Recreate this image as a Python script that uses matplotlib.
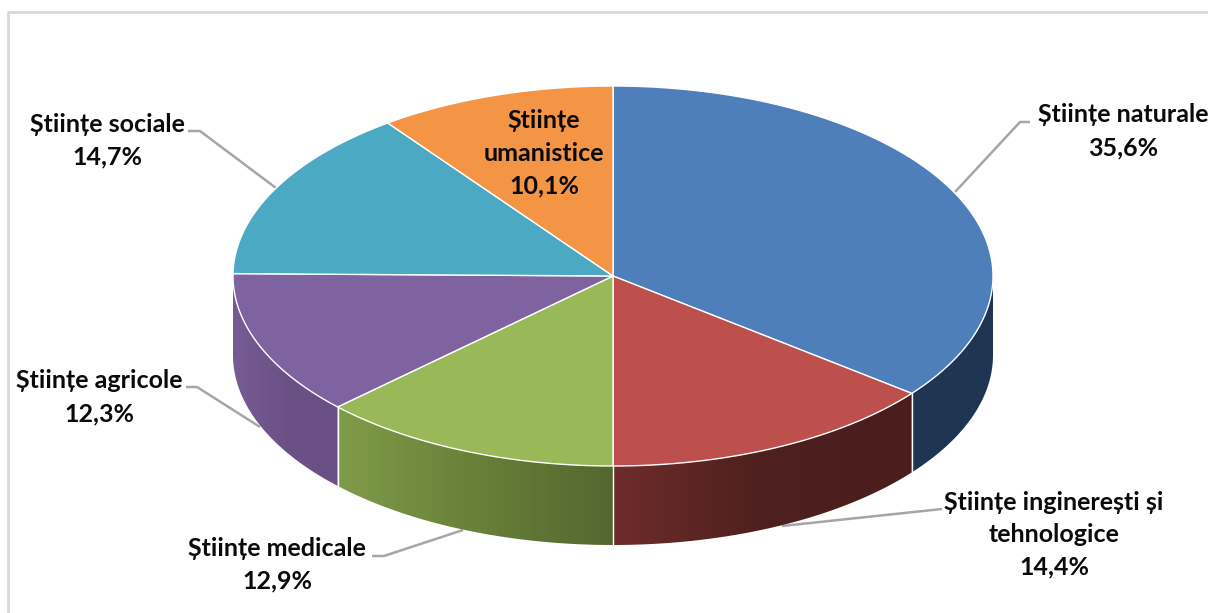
import numpy as np
import matplotlib
matplotlib.use("Agg")
import matplotlib.pyplot as plt
from matplotlib.colors import LinearSegmentedColormap
from matplotlib.patches import Polygon

categories = ["Științe naturale", "Științe inginerești și\ntehnologice", "Științe medicale",
              "Științe agricole", "Științe sociale", "Științe\numanistice"]
shares = [35.6, 14.4, 12.9, 12.3, 14.7, 10.1]
top_colors = ["#4e7fbb", "#bd4f4d", "#99b958", "#7f62a0", "#4ba9c4", "#f49545"]
# colour stops across the visible rim of each slice, left to right
rim_colors = [("#1f3552", "#1f3552"), ("#6e2c2b", "#4e201f", "#4a1e1d"), ("#7f9c4a", "#688038", "#556630"),
              ("#775c94", "#6c5187", "#6a4f84"), None, None]

label_x = [1123, 1054, 277, 99, 107, 544]
label_y = [115, 502, 548, 381, 124, 121]
leaders = [[(1030, 122), (1020, 122), (955, 192)],
           [(942, 509), (782, 526)],
           [(372, 556), (384, 556), (463, 530)],
           [(186, 387), (197, 387), (260, 427)],
           [(188, 131), (200, 131), (276, 188)]]

cx, cy = 613, 276
rx, ry = 380, 190
depth = 79
line_step = 32.5


def rim(a0, a1, n=80):
    # points on the top ellipse, angles clockwise from twelve o'clock
    t = np.deg2rad(np.linspace(a0, a1, n))
    return np.column_stack([cx + rx * np.sin(t), cy - ry * np.cos(t)])


fig = plt.figure(figsize=(12.08, 6.13), dpi=100)
ax = fig.add_axes([0, 0, 1, 1])
ax.axis("off")

edges = np.concatenate([[0], np.cumsum(shares) * 3.6])

# side walls, only the part facing the viewer (90 to 270 degrees)
for i, colors in enumerate(rim_colors):
    if colors is None:
        continue
    a0 = max(edges[i], 90)
    a1 = min(edges[i + 1], 270)
    upper = rim(a0, a1)
    lower = upper[::-1] + [0, depth]
    wall = np.vstack([upper, lower])
    cmap = LinearSegmentedColormap.from_list("wall", colors)
    x0, x1 = wall[:, 0].min(), wall[:, 0].max()
    img = ax.imshow(np.linspace(0, 1, 256).reshape(1, -1), cmap=cmap, aspect="auto",
                    extent=[x0, x1, wall[:, 1].max(), wall[:, 1].min()], zorder=2)
    img.set_clip_path(Polygon(wall, transform=ax.transData))

# white seams between the walls
for a in edges[1:4]:
    p = rim(a, a, 1)[0]
    ax.plot([p[0], p[0]], [p[1], p[1] + depth], color="white", lw=1.0, zorder=3)

# top face
for i, c in enumerate(top_colors):
    pts = np.vstack([[cx, cy], rim(edges[i], edges[i + 1])])
    ax.add_patch(Polygon(pts, closed=True, facecolor=c, edgecolor="white", lw=1.0,
                         joinstyle="round", zorder=4))

for pts in leaders:
    xs, ys = zip(*pts)
    ax.plot(xs, ys, color="#a6a6a6", lw=1.8, zorder=1, solid_capstyle="butt")

# chart frame: top and left edges only
ax.plot([8, 8, 1208], [613, 12, 12], color="#d9d9d9", lw=2, zorder=1)

for name, value, x, y in zip(categories, shares, label_x, label_y):
    lines = name.split("\n") + [f"{value:.1f}%".replace(".", ",")]
    for k, line in enumerate(lines):
        ax.text(x, y + k * line_step, line, ha="center", va="center", fontsize=18,
                family="Lato", fontweight="bold", color="#0a0a0a", zorder=5)

ax.set_xlim(0, 1208)
ax.set_ylim(613, 0)

fig.savefig("out.png", dpi=100, facecolor="white")
